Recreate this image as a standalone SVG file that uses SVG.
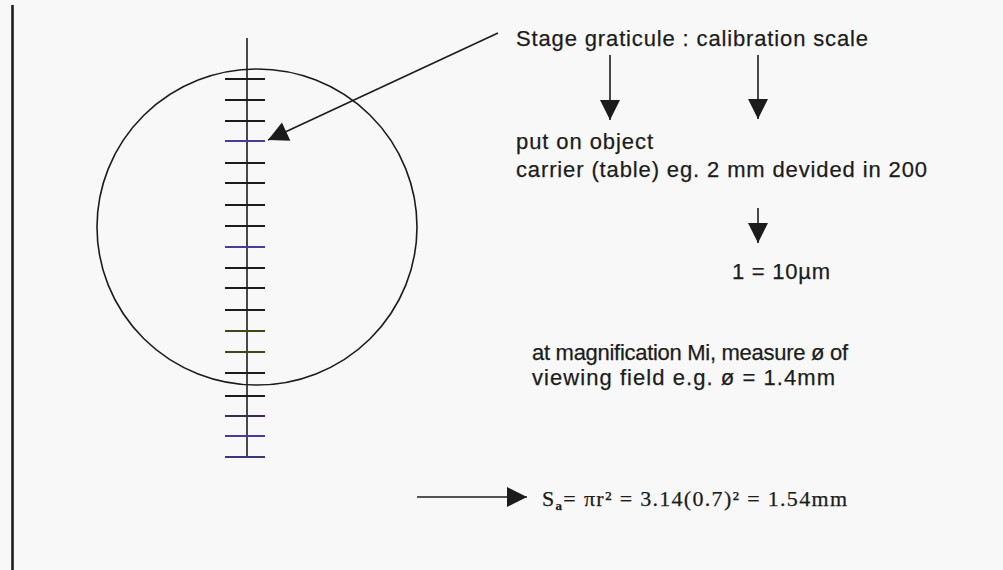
<svg xmlns="http://www.w3.org/2000/svg" width="1003" height="570" viewBox="0 0 1003 570">
<defs>
<style>
.t{font-family:"Liberation Sans",Arial,sans-serif;font-size:22px;fill:#1c1c1c;stroke:#1c1c1c;stroke-width:0.25}
.f{font-family:"Liberation Serif","Times New Roman",serif;font-size:22px;fill:#1c1c1c;stroke:#1c1c1c;stroke-width:0.25}
.ln{stroke:#1c1c1c;stroke-width:1.6;fill:none}
.tick{stroke:#1c1c1c;stroke-width:1.8}
</style>
<marker id="ahb" viewBox="0 0 20 20" refX="20" refY="10" markerWidth="22" markerHeight="20" markerUnits="userSpaceOnUse" orient="auto">
<path d="M0,0 L20,10 L0,20 z" fill="#1c1c1c"/>
</marker>
</defs>
<rect width="1003" height="570" fill="#f8f8f8"/>
<line x1="12.5" y1="5" x2="12.5" y2="570" stroke="#1c1c1c" stroke-width="2.6"/>

<g id="field">
<ellipse cx="257" cy="227" rx="160" ry="158" class="ln" stroke-width="2.2"/>
</g>

<g id="graticule">
<line x1="247" y1="38" x2="247" y2="458" class="ln" stroke-width="1.6"/>
<g class="tick">
<line x1="225" y1="79" x2="265" y2="79"/>
<line x1="225" y1="100" x2="265" y2="100"/>
<line x1="225" y1="121" x2="265" y2="121"/>
<line x1="225" y1="141" x2="265" y2="141" stroke="#4a3a9a"/>
<line x1="225" y1="163" x2="265" y2="163"/>
<line x1="225" y1="183" x2="265" y2="183"/>
<line x1="225" y1="205" x2="265" y2="205"/>
<line x1="225" y1="226" x2="265" y2="226"/>
<line x1="225" y1="247" x2="265" y2="247" stroke="#4a3a9a"/>
<line x1="225" y1="268" x2="265" y2="268"/>
<line x1="225" y1="288" x2="265" y2="288"/>
<line x1="225" y1="310" x2="265" y2="310"/>
<line x1="225" y1="331" x2="265" y2="331" stroke="#3a4a1a"/>
<line x1="225" y1="352" x2="265" y2="352" stroke="#3a4a1a"/>
<line x1="225" y1="373" x2="265" y2="373"/>
<line x1="225" y1="396" x2="265" y2="396"/>
<line x1="225" y1="416" x2="265" y2="416" stroke="#3a2a5a"/>
<line x1="225" y1="436" x2="265" y2="436" stroke="#4a3a9a"/>
<line x1="225" y1="457" x2="265" y2="457" stroke="#3a3a7a"/>
</g>
</g>

<g id="connectors">
<line x1="498" y1="33" x2="268" y2="140" class="ln" marker-end="url(#ahb)"/>
<line x1="610" y1="55" x2="610" y2="120" class="ln" marker-end="url(#ahb)"/>
<line x1="758" y1="55" x2="758" y2="119" class="ln" marker-end="url(#ahb)"/>
<line x1="758" y1="208" x2="758" y2="243" class="ln" marker-end="url(#ahb)"/>
<line x1="417" y1="497" x2="527" y2="497" class="ln" marker-end="url(#ahb)"/>
</g>

<g id="label-stage">
<text class="t" x="516" y="46" font-size="23" textLength="352" lengthAdjust="spacing">Stage graticule : calibration scale</text>
</g>

<g id="label-put">
<text class="t" x="516" y="149" textLength="137" lengthAdjust="spacing">put on object</text>
<text class="t" x="516" y="177" textLength="411" lengthAdjust="spacing">carrier (table) eg. 2 mm devided in 200</text>
</g>

<g id="label-unit">
<text class="t" x="732" y="279" textLength="98" lengthAdjust="spacing">1 = 10µm</text>
</g>

<g id="label-measure">
<text class="t" x="532" y="360" font-size="20" textLength="316" lengthAdjust="spacing">at magnification Mi, measure ø of</text>
<text class="t" x="532" y="385" font-size="20" textLength="303" lengthAdjust="spacing">viewing field e.g. ø = 1.4mm</text>
</g>

<g id="label-area">
<text class="f" x="542" y="506" textLength="305" lengthAdjust="spacing">S<tspan font-size="13" dy="4" font-weight="bold">a</tspan><tspan dy="-4">= πr² = 3.14(0.7)² = 1.54mm</tspan></text>
</g>
</svg>
